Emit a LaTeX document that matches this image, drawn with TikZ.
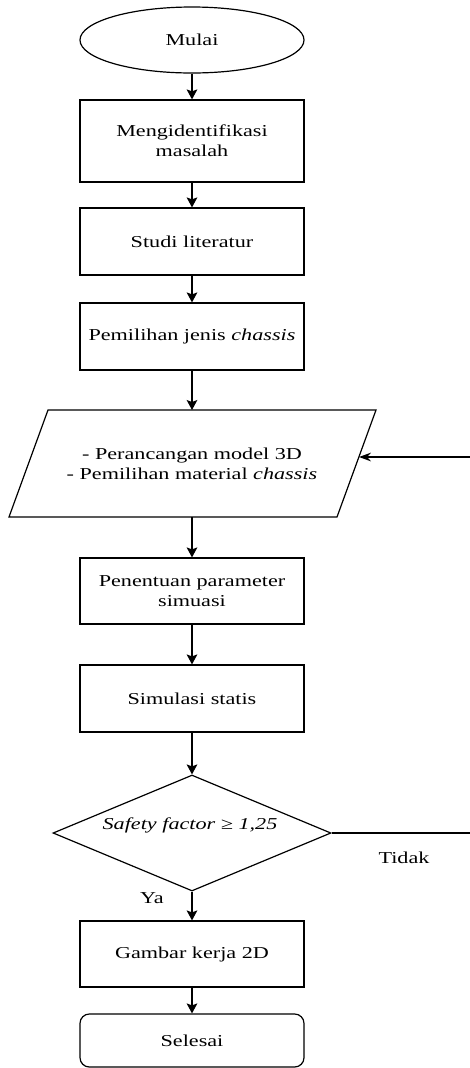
\documentclass[tikz,border=0pt]{standalone}
\usepackage{fontspec}
\setmainfont{Liberation Serif}[FakeStretch=1.33]
\usetikzlibrary{shapes.geometric,arrows.meta}
\begin{document}
\begin{tikzpicture}[x=0.75pt,y=-0.75pt,
  base/.style={draw=black, line width=0.9pt, font=\fontsize{12.5}{15}\selectfont, align=center, inner sep=2pt},
  procbox/.style={base, rectangle, minimum width=168pt},
  startbox/.style={base, ellipse, minimum width=168pt, minimum height=49.5pt},
  endbox/.style={base, rectangle, rounded corners=7pt, minimum width=168pt, minimum height=39.75pt},
  decision/.style={base, diamond, aspect=2.4, minimum width=208.5pt, minimum height=87pt, inner sep=0pt},
  shapeline/.style={draw=black, line width=0.9pt},
  arr/.style={line width=0.9pt, -{Stealth[length=7.5pt,width=8pt,inset=1.5pt]}},
  fb/.style={line width=0.9pt, -{Stealth[length=9pt,width=6.5pt,inset=3pt]}},
  lbl/.style={font=\fontsize{12.5}{15}\selectfont, inner sep=0pt, align=center}
]
\useasboundingbox (0,0) rectangle (470,1068);
\fill[white] (0,0) rectangle (470,1068);

\node[startbox] (start) at (192,40) {Mulai};
\node[procbox, minimum height=61.5pt] (b1) at (192,141) {Mengidentifikasi\\masalah};
\node[procbox, minimum height=50.25pt] (b2) at (192,241.5) {Studi literatur};
\node[procbox, minimum height=50.25pt] (b3) at (192,336.5) {Pemilihan jenis \textit{chassis}};

\draw[shapeline] (48,410) -- (376,410) -- (337,517) -- (9,517) -- cycle;
\node[lbl] (para) at (192,464) {- Perancangan model 3D\\- Pemilihan material \textit{chassis}};
\coordinate (ptop) at (192,410);
\coordinate (pbot) at (192,517);
\coordinate (pin) at (359,457);

\node[procbox, minimum height=49.5pt] (b4) at (192,591) {Penentuan parameter\\simuasi};
\node[procbox, minimum height=50.25pt] (b5) at (192,698.5) {Simulasi statis};
\node[decision] (dec) at (192,833) {};
\node[lbl, font=\itshape\fontsize{12.5}{15}\selectfont] (dectext) at (190,825) {Safety factor ≥ 1,25};
\node[procbox, minimum height=49.5pt] (b6) at (192,954) {Gambar kerja 2D};
\node[endbox] (end) at (192,1040.5) {Selesai};

\node[lbl] (ya) at (152,898) {Ya};
\node[lbl] (tidak) at (404,858) {Tidak};

\coordinate (r1) at (473,833);
\coordinate (r2) at (473,457);

\draw[arr] (start.south) -- (b1.north);
\draw[arr] (b1.south) -- (b2.north);
\draw[arr] (b2.south) -- (b3.north);
\draw[arr] (b3.south) -- (ptop);
\draw[arr] (pbot) -- (b4.north);
\draw[arr] (b4.south) -- (b5.north);
\draw[arr] (b5.south) -- (dec.north);
\draw[arr] (dec.south) -- (b6.north);
\draw[arr] (b6.south) -- (end.north);
\draw[fb] (dec.east) -- (r1) -- (r2) -- (pin);
\end{tikzpicture}
\end{document}
